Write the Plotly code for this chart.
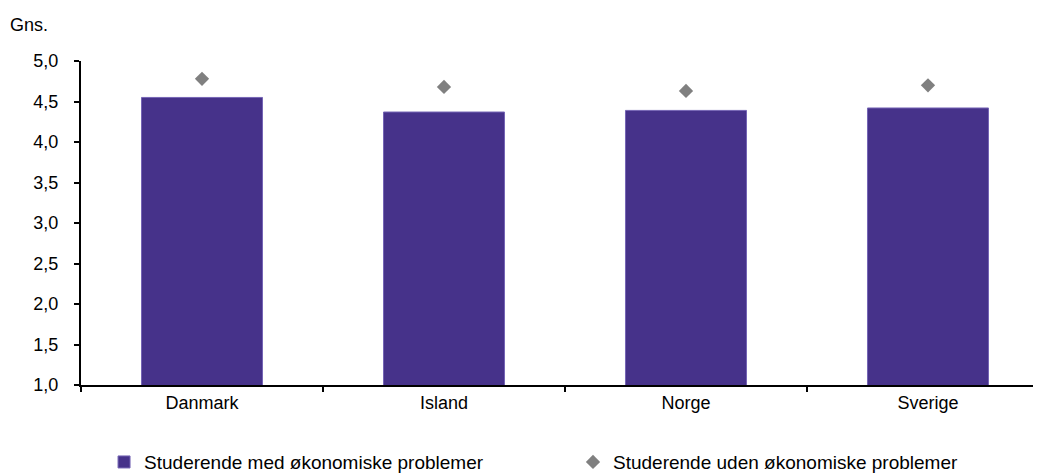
import plotly.graph_objects as go

categories = ["Danmark", "Island", "Norge", "Sverige"]
med_problemer = [4.55, 4.37, 4.39, 4.42]
uden_problemer = [4.78, 4.68, 4.63, 4.70]
y_ticks = [1.0, 1.5, 2.0, 2.5, 3.0, 3.5, 4.0, 4.5, 5.0]

FONT = "Arial, Liberation Sans, sans-serif"

fig = go.Figure()
fig.add_trace(go.Bar(
    x=categories, y=med_problemer,
    name="Studerende med økonomiske problemer",
    marker=dict(color="#46328a", line=dict(color="#7565b5", width=1)),
    width=0.5, legend="legend",
))
fig.add_trace(go.Scatter(
    x=categories, y=uden_problemer, mode="markers",
    name="Studerende uden økonomiske problemer",
    marker=dict(symbol="diamond", color="#808080", size=11),
    legend="legend2",
))

# page body has an 8px default margin, so the figure is offset by 8px
fig.update_layout(
    width=1033, height=466,
    margin=dict(l=73, r=0, t=53, b=89, autoexpand=False),
    paper_bgcolor="white", plot_bgcolor="white",
    font=dict(family=FONT, size=18, color="black"),
    separators=",.",
    showlegend=True,
    legend=dict(x=0.024, y=-0.238, xanchor="left", yanchor="middle",
                font=dict(size=19), bgcolor="rgba(0,0,0,0)"),
    legend2=dict(x=0.5125, y=-0.238, xanchor="left", yanchor="middle",
                 font=dict(size=19), bgcolor="rgba(0,0,0,0)"),
    xaxis=dict(
        range=[-0.5, 3.467], showline=True, linecolor="black", linewidth=2,
        ticks="outside", tickson="boundaries", ticklen=5, tickwidth=2,
        tickcolor="black", showgrid=False, zeroline=False, automargin=False,
    ),
    yaxis=dict(
        range=[1, 5], tickvals=y_ticks, tickformat=".1f",
        showline=True, linecolor="black", linewidth=2,
        ticks="outside", ticklen=5, tickwidth=2, tickcolor="black",
        showgrid=False, zeroline=False, ticklabelstandoff=12, automargin=False,
    ),
    annotations=[dict(text="Gns.", xref="paper", yref="paper",
                      x=-0.076, y=1.111, xanchor="left", yanchor="middle",
                      showarrow=False, font=dict(size=18))],
)

fig.write_html("out.html")
